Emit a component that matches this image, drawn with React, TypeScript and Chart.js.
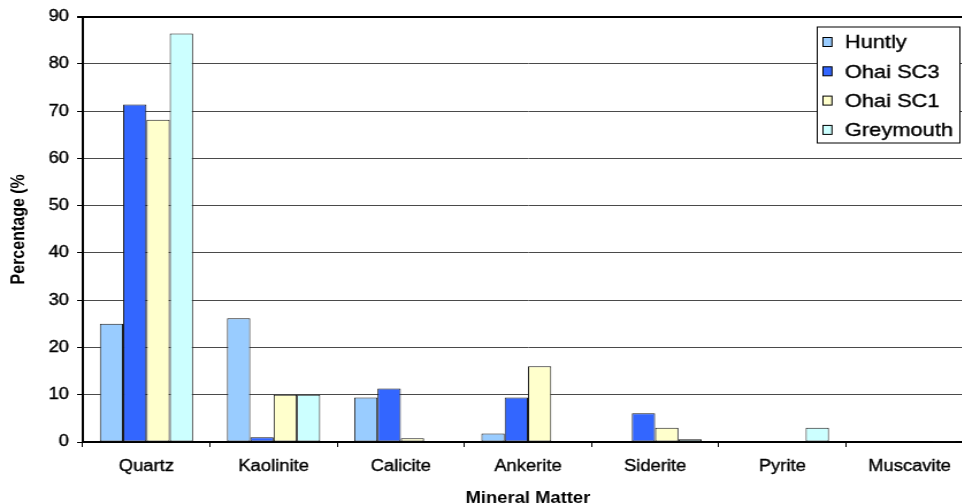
import React, { useEffect, useRef } from "react";
import { Chart, registerables } from "chart.js";

Chart.register(...registerables);

// Mineral matter composition of the coal samples (%)
const minerals = ["Quartz", "Kaolinite", "Calicite", "Ankerite", "Siderite", "Pyrite", "Muscavite"];
const huntly = [25.0, 26.2, 9.4, 1.8, 0, 0, 0];
const ohaiSC3 = [71.4, 1.0, 11.3, 9.4, 6.1, 0, 0];
const ohaiSC1 = [68.2, 10.0, 0.8, 16.0, 3.0, 0, 0];
const greymouth = [86.4, 10.0, 0, 0, 0.6, 3.0, 0.2];

const yTicks = [0, 10, 20, 30, 40, 50, 60, 70, 80, 90];

const seriesNames = ["Huntly", "Ohai SC3", "Ohai SC1", "Greymouth"];
const seriesColors = ["#99CCFF", "#3366FF", "#FFFFCC", "#CCFFFF"];

// Canvas is drawn narrower and widened by CSS so glyphs get the wide look
const STRETCH = 1.15;
const CANVAS_W = 852;
const CANVAS_H = 510;
const FONT = "'Liberation Sans', Arial, sans-serif";
const TEXT_STROKE = 0.35;

// Boxed legend in the upper right of the plot
const boxedLegend = {
  id: "boxedLegend",
  afterDraw(chart: any) {
    const ctx = chart.ctx as CanvasRenderingContext2D;
    const left = 710;
    const top = 26.5;
    const right = 835;
    const bottom = 143.5;
    ctx.save();
    ctx.fillStyle = "#ffffff";
    ctx.fillRect(left, top, right - left, bottom - top);
    ctx.strokeStyle = "#000000";
    ctx.lineWidth = 1;
    ctx.strokeRect(left + 0.5, top + 0.5, right - left - 1, bottom - top - 1);
    ctx.font = `19px ${FONT}`;
    ctx.textBaseline = "middle";
    ctx.textAlign = "left";
    chart.data.datasets.forEach((ds: any, i: number) => {
      const cy = 42 + i * 29.3;
      ctx.fillStyle = ds.backgroundColor;
      ctx.fillRect(715.5, cy - 4.5, 7.8, 9);
      ctx.strokeStyle = "#000000";
      ctx.lineWidth = 1;
      ctx.strokeRect(715.5, cy - 4.5, 7.8, 9);
      ctx.fillStyle = "#000000";
      ctx.lineWidth = TEXT_STROKE;
      ctx.strokeText(ds.label, 734.5, cy + 1);
      ctx.fillText(ds.label, 734.5, cy + 1);
    });
    ctx.restore();
  },
};

export default function App() {
  const canvasRef = useRef<HTMLCanvasElement | null>(null);

  useEffect(() => {
    const canvas = canvasRef.current;
    if (!canvas) return;
    const values = [huntly, ohaiSC3, ohaiSC1, greymouth];

    const chart = new Chart(canvas, {
      type: "bar",
      data: {
        labels: minerals,
        datasets: values.map((v, i) => ({
          label: seriesNames[i],
          data: v,
          backgroundColor: seriesColors[i],
          borderColor: "#1a1a1a",
          borderWidth: 1,
          borderSkipped: false,
          categoryPercentage: 0.733,
          barPercentage: 1,
        })),
      },
      options: {
        responsive: false,
        animation: false,
        devicePixelRatio: 1,
        layout: { padding: { left: 0, right: 6, top: 15, bottom: 0 } },
        plugins: {
          legend: { display: false },
          tooltip: { enabled: false },
        },
        scales: {
          x: {
            z: 1,
            grid: {
              drawOnChartArea: false,
              drawTicks: true,
              tickLength: 5,
              color: "#000000",
              lineWidth: 1,
            },
            border: { display: true, color: "#000000", width: 2 },
            ticks: {
              color: "#000000",
              font: { family: FONT, size: 16 },
              textStrokeColor: "#000000",
              textStrokeWidth: TEXT_STROKE,
              padding: 10,
              maxRotation: 0,
              autoSkip: false,
            },
            title: {
              display: true,
              text: "Mineral Matter",
              color: "#000000",
              font: { family: FONT, size: 16, weight: "bold" },
              padding: { top: 0, bottom: 2 },
            },
            afterFit(scale: any) {
              scale.height = 68;
            },
          },
          y: {
            min: 0,
            max: 90,
            afterBuildTicks(scale: any) {
              scale.ticks = yTicks.map((value) => ({ value }));
            },
            grid: {
              drawTicks: true,
              tickLength: 5,
              color: (c: any) => (c.tick && c.tick.value === 90 ? "#000000" : "#4a4a4a"),
              lineWidth: (c: any) => (c.tick && c.tick.value === 90 ? 2 : 1),
              tickColor: "#000000",
            },
            border: { display: true, color: "#000000", width: 2 },
            ticks: {
              color: "#000000",
              font: { family: FONT, size: 16 },
              textStrokeColor: "#000000",
              textStrokeWidth: TEXT_STROKE,
              padding: 7,
            },
            title: {
              display: true,
              text: "Percentage (%",
              color: "#000000",
              font: { family: FONT, size: 16, weight: "bold" },
              padding: { top: 7, bottom: 0 },
            },
            afterFit(scale: any) {
              scale.width = 72;
            },
          },
        },
      },
      plugins: [boxedLegend],
    });

    return () => chart.destroy();
  }, []);

  return (
    <div
      style={{
        position: "fixed",
        left: 0,
        top: 0,
        width: 962,
        height: 504,
        overflow: "hidden",
        background: "#ffffff",
      }}
    >
      <canvas
        ref={canvasRef}
        width={CANVAS_W}
        height={CANVAS_H}
        style={{ width: `${CANVAS_W * STRETCH}px`, height: `${CANVAS_H}px`, display: "block" }}
      />
    </div>
  );
}
